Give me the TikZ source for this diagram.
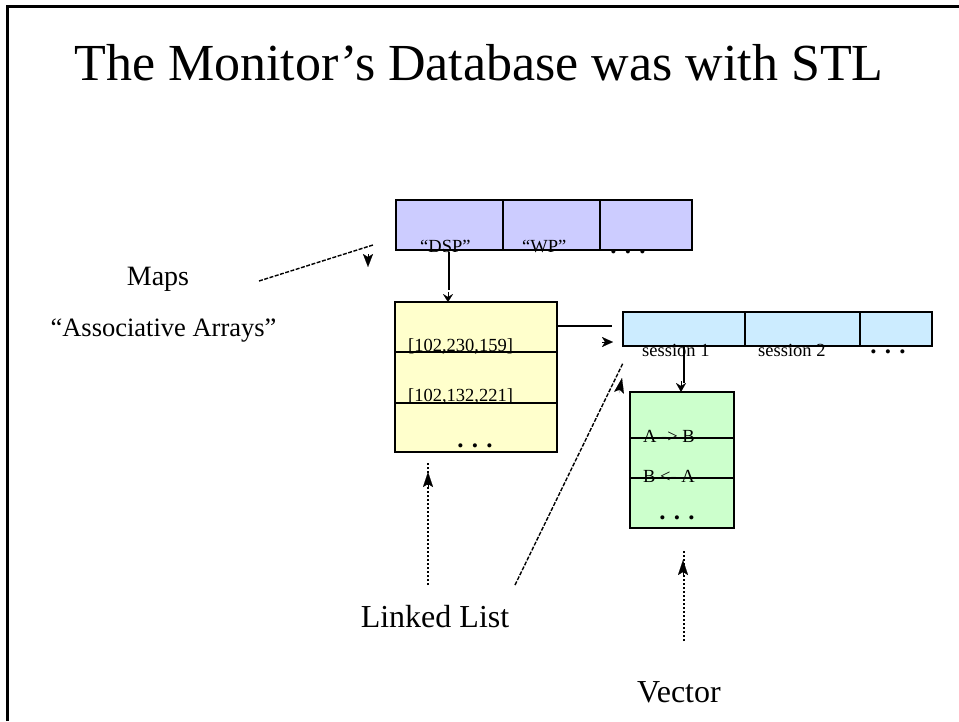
\documentclass[tikz,border=0pt]{standalone}
\usepackage{fontspec}
\setmainfont{Liberation Serif}
\usetikzlibrary{arrows.meta}

\tikzset{
  cell/.style={draw=black, line width=1.6pt, minimum width=#1, inner sep=0pt},
  boxtext/.style={font=\fontsize{18.5}{20}\selectfont, inner sep=0pt, anchor=base west},
  dots/.style={font=\fontsize{25}{27}\selectfont\bfseries, inner sep=0pt, anchor=base},
  label/.style={font=\fontsize{#1}{#1}\selectfont, inner sep=0pt, anchor=base},
  link/.style={line width=1.4pt},
  dashlink/.style={line width=1.4pt, dash pattern=on 4pt off 1.5pt},
  dotlink/.style={line width=1.4pt, dash pattern=on 2.5pt off 1.5pt},
  tip/.style={line width=0.1pt, -{Stealth[length=#1, width=10pt, inset=3pt]}},
  tip/.default=12pt
}

\begin{document}
\begin{tikzpicture}[x=1pt, y=-1pt]
\useasboundingbox (0,0) rectangle (959,721);

% slide frame
\draw[line width=2.2pt] (7.5,721) |- (959,6.5);

% title
\node[font=\fontsize{52}{56}\selectfont, inner sep=0pt, anchor=base] (title) at (479,80)
  {The Monitor’s Database was with STL};

% map keys (purple)
\node[cell=296pt, minimum height=50pt, fill={rgb,255:red,204;green,204;blue,255}] (mapbox) at (544,225) {};
\draw[line width=1.6pt] (503,200) -- (503,250) (600,200) -- (600,250);
\node[boxtext] (kdsp) at (420,252) {“DSP”};
\node[boxtext] (kwp) at (522,252) {“WP”};
\node[dots] (kdots) at (628,253) {. . .};

% linked list (yellow)
\node[cell=162pt, minimum height=150pt, fill={rgb,255:red,255;green,255;blue,204}] (listbox) at (476,377) {};
\draw[line width=1.6pt] (395,352) -- (557,352) (395,403) -- (557,403);
\node[boxtext] (l1) at (408,351) {[102,230,159]};
\node[boxtext] (l2) at (408,401) {[102,132,221]};
\node[dots] (ldots) at (475,447) {. . .};

% sessions (blue)
\node[cell=309pt, minimum height=34pt, fill={rgb,255:red,204;green,236;blue,255}] (sessbox) at (777.5,329) {};
\draw[line width=1.6pt] (745,312) -- (745,346) (860,312) -- (860,346);
\node[boxtext] (s1) at (642,356) {session 1};
\node[boxtext] (s2) at (758,356) {session 2};
\node[dots] (sdots) at (888,353) {. . .};

% vector (green)
\node[cell=104pt, minimum height=136pt, fill={rgb,255:red,204;green,255;blue,204}] (vecbox) at (682,460) {};
\draw[line width=1.6pt] (630,438) -- (734,438) (630,478) -- (734,478);
\node[boxtext] (v1) at (643,442) {A -> B};
\node[boxtext] (v2) at (643,482) {B <- A};
\node[dots] (vdots) at (677,519) {. . .};

% captions
\node[label=28] (maps) at (158,285) {Maps};
\node[label=26.5] (assoc) at (163.5,336) {“Associative Arrays”};
\node[label=32] (ll) at (435,627) {Linked List};
\node[label=32] (vec) at (679,702) {Vector};

% connector end points
\coordinate (mapsA) at (259,281);
\coordinate (mapsB) at (373,245);
\coordinate (mapsT0) at (368,254);
\coordinate (mapsT1) at (368,267);

\coordinate (dspA) at (449,252);
\coordinate (dspB) at (449,290);
\coordinate (dspT0) at (448,292);
\coordinate (dspT1) at (448,302);

\coordinate (lsA) at (558,326);
\coordinate (lsB) at (612,326);
\coordinate (lsT0) at (602,342);
\coordinate (lsT1) at (613,342);

\coordinate (svA) at (684,347);
\coordinate (svB) at (684,383);
\coordinate (svT0) at (681,381);
\coordinate (svT1) at (681,392);

\coordinate (llA) at (428,585);
\coordinate (llB) at (428,463);
\coordinate (llT0) at (428,487);
\coordinate (llT1) at (428,472);

\coordinate (lrA) at (515,585);
\coordinate (lrB) at (623,363);
\coordinate (lrT0) at (619,393);
\coordinate (lrT1) at (622,378);

\coordinate (vA) at (684,641);
\coordinate (vB) at (684,550);
\coordinate (vT0) at (683,575);
\coordinate (vT1) at (683,560);

% connectors
\draw[dashlink] (mapsA) -- (mapsB);
\draw[tip=13pt] (mapsT0) -- (mapsT1);

\draw[link] (dspA) -- (dspB);
\draw[tip=8pt] (dspT0) -- (dspT1);

\draw[link] (lsA) -- (lsB);
\draw[tip=11pt] (lsT0) -- (lsT1);

\draw[link] (svA) -- (svB);
\draw[tip=9pt] (svT0) -- (svT1);

\draw[dotlink] (llA) -- (llB);
\draw[tip=15pt] (llT0) -- (llT1);

\draw[dashlink] (lrA) -- (lrB);
\draw[tip=15pt] (lrT0) -- (lrT1);

\draw[dotlink] (vA) -- (vB);
\draw[tip=15pt] (vT0) -- (vT1);
\end{tikzpicture}
\end{document}
